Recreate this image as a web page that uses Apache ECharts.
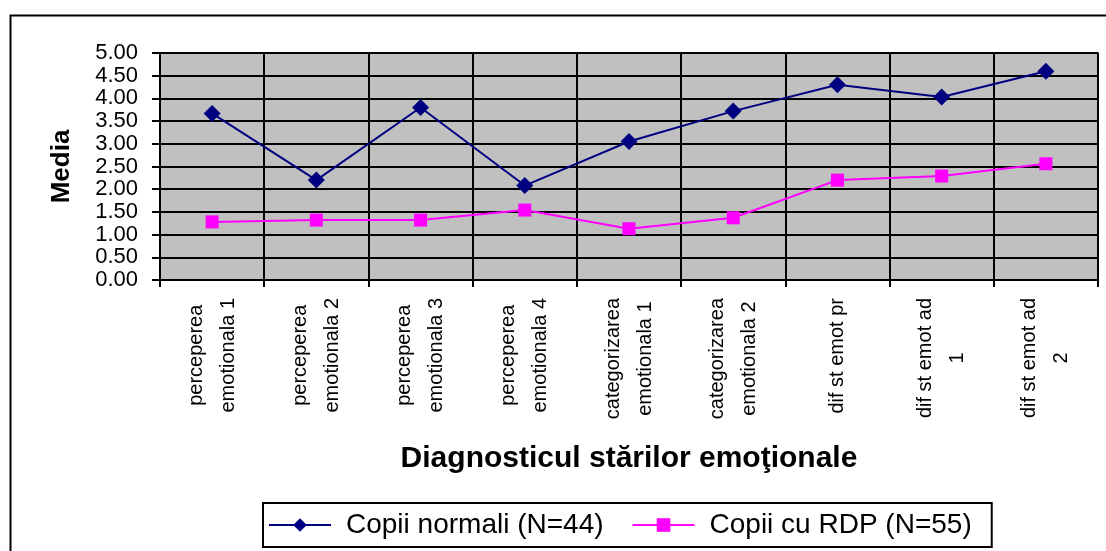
<!DOCTYPE html>
<html>
<head>
<meta charset="utf-8">
<script src="https://cdn.jsdelivr.net/npm/echarts@6/dist/echarts.min.js"></script>
<style>
html,body{margin:0;padding:0;background:#fff;}
#chart{width:1106px;height:551px;}
</style>
</head>
<body>
<div id="chart"></div>
<script>
const categories = ['perceperea\nemotionala 1', 'perceperea\nemotionala 2', 'perceperea\nemotionala 3', 'perceperea\nemotionala 4', 'categorizarea\nemotionala 1', 'categorizarea\nemotionala 2', 'dif st emot pr', 'dif st emot ad\n1', 'dif st emot ad\n2'];
const normali = [3.67, 2.20, 3.80, 2.08, 3.05, 3.72, 4.30, 4.03, 4.60];
const rdp = [1.28, 1.32, 1.32, 1.54, 1.13, 1.37, 2.20, 2.29, 2.56];
const seriesNames = ['Copii normali (N=44)', 'Copii cu RDP (N=55)'];
const xTitle = 'Diagnosticul stărilor emoţionale';
const yTitle = 'Media';

const FONT = 'Liberation Sans, Arial, sans-serif';
const chart = echarts.init(document.getElementById('chart'), null, {renderer: 'canvas'});
chart.setOption({
  animation: false,
  backgroundColor: '#ffffff',
  graphic: [{
    type: 'rect', left: 8, top: 13, silent: true,
    shape: {width: 1120, height: 560},
    style: {fill: 'none', stroke: '#000', lineWidth: 2}
  }],
  grid: {
    left: 160, top: 53, width: 938, height: 227,
    show: true, backgroundColor: '#c0c0c0', borderColor: '#808080', borderWidth: 2
  },
  legend: {
    left: 263, top: 503,
    orient: 'horizontal',
    borderColor: '#000', borderWidth: 2,
    padding: [8, 20, 8, 5],
    itemWidth: 62, itemHeight: 17, itemGap: 28,
    textStyle: {fontFamily: FONT, fontSize: 28, color: '#000', padding: [0, 0, 0, 10]},
    data: seriesNames
  },
  xAxis: {
    type: 'category',
    data: categories,
    boundaryGap: true,
    name: xTitle,
    nameLocation: 'middle',
    nameGap: 164,
    nameTextStyle: {fontFamily: FONT, fontSize: 30, fontWeight: 'bold', color: '#000'},
    axisLine: {show: true, lineStyle: {color: '#000', width: 2}},
    axisTick: {show: true, interval: 0, length: 7, lineStyle: {color: '#000', width: 2}},
    splitLine: {show: true, interval: 0, lineStyle: {color: '#000', width: 2}},
    axisLabel: {
      interval: 0, rotate: 90, margin: 18,
      color: '#000', fontFamily: FONT, fontSize: 20, lineHeight: 32,
      formatter: function (v) { return v.split('\n').map(function (s) { return '{c|' + s + '}'; }).join('\n'); },
      rich: {c: {align: 'center', fontFamily: FONT, fontSize: 20, lineHeight: 32, color: '#000'}}
    }
  },
  yAxis: {
    type: 'value',
    min: 0, max: 5, interval: 0.5,
    name: yTitle,
    nameLocation: 'middle',
    nameRotate: 90,
    nameGap: 85,
    nameTextStyle: {fontFamily: FONT, fontSize: 26, fontWeight: 'bold', color: '#000'},
    axisLine: {show: true, lineStyle: {color: '#000', width: 2}},
    axisTick: {show: true, length: 8, lineStyle: {color: '#000', width: 2}},
    splitLine: {show: true, lineStyle: {color: '#000', width: 2}},
    axisLabel: {
      margin: 22, color: '#000', fontFamily: FONT, fontSize: 22,
      formatter: function (v) { return v.toFixed(2); }
    }
  },
  series: [
    {
      name: seriesNames[0], type: 'line', data: normali,
      symbol: 'diamond', symbolSize: 17,
      lineStyle: {color: '#000080', width: 2},
      itemStyle: {color: '#000080'},
      z: 3
    },
    {
      name: seriesNames[1], type: 'line', data: rdp,
      symbol: 'rect', symbolSize: 13,
      lineStyle: {color: '#ff00ff', width: 2},
      itemStyle: {color: '#ff00ff'},
      z: 2
    }
  ]
});
</script>
</body>
</html>
